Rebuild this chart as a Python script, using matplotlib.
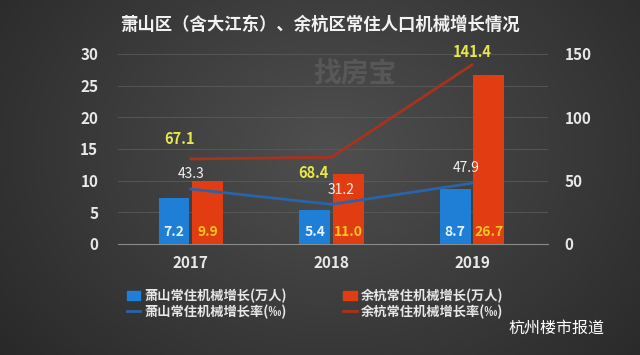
import numpy as np
import matplotlib
matplotlib.use("Agg")
import matplotlib.pyplot as plt
from matplotlib.patches import Patch
from matplotlib.lines import Line2D

plt.rcParams['font.family'] = ['Noto Sans CJK SC', 'DejaVu Sans']

years = ['2017', '2018', '2019']
xs_growth = [7.2, 5.4, 8.7]        # 萧山常住机械增长(万人)
yh_growth = [9.9, 11.0, 26.7]      # 余杭常住机械增长(万人)
xs_rate = [43.3, 31.2, 47.9]       # 萧山常住机械增长率(‰)
yh_rate = [67.1, 68.4, 141.4]      # 余杭常住机械增长率(‰)

title = '萧山区（含大江东）、余杭区常住人口机械增长情况'
labels = ['萧山常住机械增长(万人)', '萧山常住机械增长率(‰)',
          '余杭常住机械增长(万人)', '余杭常住机械增长率(‰)']

blue = '#1f7fd6'
red = '#e23c12'
blue_line = '#2a64a8'
red_line = '#a8321e'

fig = plt.figure(figsize=(6.4, 3.55), dpi=100)

# background gradient
bg = fig.add_axes([0, 0, 1, 1], zorder=-10)
yy, xx = np.mgrid[0:355, 0:640]
d = np.sqrt(((xx - 330) / 420.0) ** 2 + ((yy - 150) / 330.0) ** 2)
v = np.clip(0.31 - 0.15 * d, 0.15, 0.32)
bg.imshow(np.dstack([v, v, v]), aspect='auto', extent=[0, 1, 0, 1])
bg.axis('off')

ax = fig.add_axes([0.184, 0.313, 0.672, 0.535])
ax.patch.set_alpha(0)
x = np.arange(len(years))
w = 0.22
ax.bar(x - 0.12, xs_growth, w, color=blue, zorder=3)
ax.bar(x + 0.12, yh_growth, w, color=red, zorder=3)
ax.set_ylim(0, 30)
ax.set_xlim(-0.52, 2.54)
ax.set_yticks(range(0, 31, 5))
ax.yaxis.grid(True, color='#5a5a5a', lw=0.6, zorder=0)
ax.set_xticks(x)
ax.set_xticklabels(years, color='#e8e8e8', fontsize=11, fontweight='bold')
ax.tick_params(axis='y', colors='#e8e8e8', labelsize=11, length=0, pad=14)
ax.tick_params(axis='x', length=0, pad=8)
for lab in ax.get_yticklabels():
    lab.set_fontweight('bold')
for s in ['top', 'right', 'left']:
    ax.spines[s].set_visible(False)
ax.spines['bottom'].set_color('#8a8a8a')

for i in range(len(years)):
    ax.text(x[i] - 0.12, 0.8, f'{xs_growth[i]:.1f}', ha='center', va='bottom',
            color='#e6f4ff', fontsize=10, fontweight='bold', zorder=5)
    ax.text(x[i] + 0.12, 0.8, f'{yh_growth[i]:.1f}', ha='center', va='bottom',
            color='#f5c623', fontsize=10, fontweight='bold', zorder=5)

ax2 = ax.twinx()
ax2.set_ylim(0, 150)
ax2.set_yticks([0, 50, 100, 150])
ax2.tick_params(axis='y', colors='#e8e8e8', labelsize=11, length=0, pad=12)
for lab in ax2.get_yticklabels():
    lab.set_fontweight('bold')
for s in ax2.spines.values():
    s.set_visible(False)
ax2.plot(x, xs_rate, color=blue_line, lw=2, zorder=4)
ax2.plot(x, yh_rate, color=red_line, lw=2, zorder=4)

red_off = [(-8, 14), (-13, -11), (0, 9)]
blue_off = [(0, 11), (7, 10), (-4, 11)]
for i in range(len(years)):
    ax2.annotate(f'{yh_rate[i]:.1f}', (x[i], yh_rate[i]), xytext=red_off[i],
                 textcoords='offset points', ha='center', va='center',
                 color='#e8e84a', fontsize=10.5, fontweight='bold', zorder=6)
    ax2.annotate(f'{xs_rate[i]:.1f}', (x[i], xs_rate[i]), xytext=blue_off[i],
                 textcoords='offset points', ha='center', va='center',
                 color='#f0f0f0', fontsize=10, zorder=6)

fig.text(0.5, 0.93, title, ha='center', va='center', color='#f2f2f2',
         fontsize=12.5, fontweight='bold')
fig.text(0.555, 0.79, '找房宝', ha='center', va='center', color='#ffffff',
         alpha=0.1, fontsize=20, fontweight='bold')

handles = [Patch(color=blue), Line2D([0], [0], color=blue_line, lw=2),
           Patch(color=red), Line2D([0], [0], color=red_line, lw=2)]
fig.legend(handles, labels, ncol=2, loc='upper left', bbox_to_anchor=(0.18, 0.22),
           frameon=False, labelcolor='#e8e8e8', handlelength=1.0,
           handletextpad=0.3, columnspacing=4.3, labelspacing=0.1,
           prop={'weight': 'bold', 'size': 9.5})
fig.text(0.87, 0.075, '杭州楼市报道', ha='center', va='center', color='#ffffff', fontsize=11.5)

fig.savefig('out.png', dpi=100)
